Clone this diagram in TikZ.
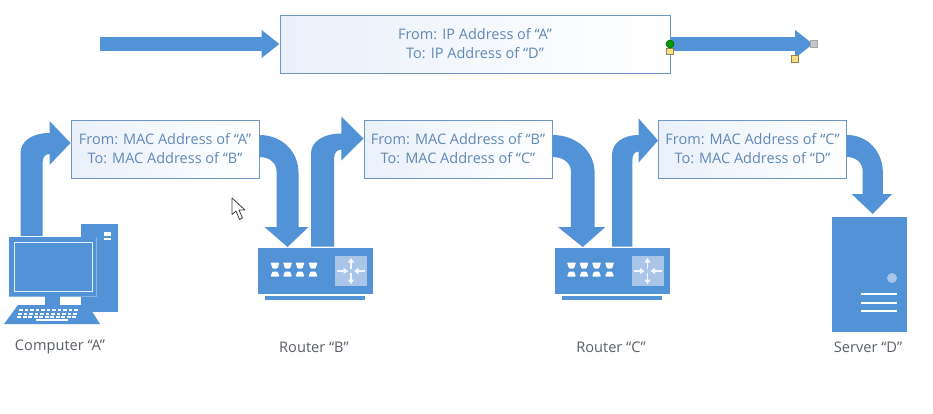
\documentclass[tikz,border=0pt]{standalone}
\usepackage{fontspec}
\setmainfont{Open Sans}
\usetikzlibrary{arrows.meta}
\definecolor{blk}{HTML}{5292D6}
\definecolor{txtb}{HTML}{5F89B8}
\definecolor{edge}{HTML}{6F97C6}
\definecolor{pale}{HTML}{EAF0FA}
\definecolor{lite}{HTML}{A9C6E8}
\definecolor{lab}{HTML}{5A5F66}
\definecolor{hy}{HTML}{F5DF85}
\definecolor{hb}{HTML}{8F8450}
\tikzset{
  x=1pt,y=-1pt,
  msgbox/.style={draw=edge,line width=1pt,left color=pale,right color=white,minimum height=58pt,inner sep=0pt,align=center,text=txtb,font=\fontsize{14.5}{19}\selectfont},
  devlabel/.style={text=lab,font=\fontsize{14.6}{16}\selectfont,inner sep=0pt},
  toparrow/.style={draw=blk,line width=13.5pt,-{Triangle[length=18pt,width=27pt]}},
  handle/.style={draw=hb,line width=.7pt,fill=#1,minimum size=7pt,inner sep=0pt},
  rarrow/.style={white!92!blk,line width=1.5pt,-{Triangle[length=4.5pt,width=6pt]}},
  pics/uparr/.style 2 args={code={
    \fill[blk] (0,0)--(-21,-22)--(-21,#2) .. controls (-38,#2) and (-50,#2+8) .. (-50,#2+20) -- (-50,#1) -- (-28,#1) -- (-28,20) .. controls (-28,14) and (-25,11) .. (-21,11) -- (-21,22) -- cycle;
  }},
  pics/downarr/.style={code={
    \fill[blk] (0,-14) .. controls (22,-14) and (39,2) .. (39,24) -- (39,#1) -- (49,#1) -- (28,#1+20) -- (5,#1) -- (17,#1) -- (17,22) .. controls (17,14) and (10,8) .. (0,8) -- cycle;
  }},
  pics/routerbody/.style={code={
    \fill[blk] (0,0) rectangle (115,46);
    \fill[blk] (7,48) rectangle (107,52);
    \fill[lite] (77,8) rectangle (109,38);
    \foreach \px in {17,29.5,42,55}{
      \fill[white,rounded corners=.8pt] (\px-4.5,14.5) -- (\px+4.5,14.5) -- (\px+2.5,20.5) -- (\px-2.5,20.5) -- cycle;
      \fill[white,rounded corners=.8pt] (\px-2.5,23.5) -- (\px+2.5,23.5) -- (\px+4.5,28.5) -- (\px-4.5,28.5) -- cycle;
    }
    \draw[rarrow] (79,23) -- (90,23);
    \draw[rarrow] (107,23) -- (96,23);
    \draw[rarrow] (93,21) -- (93,10);
    \draw[rarrow] (93,25) -- (93,36);
  }}
}
\begin{document}
\begin{tikzpicture}
\useasboundingbox[fill=white] (0,0) rectangle (933,413);
% message boxes
\node[msgbox,minimum width=390pt] (ip) at (475,44) {From: IP Address of “A”\\To: IP Address of “D”};
\node[msgbox,minimum width=188pt] (macA) at (165,149) {From: MAC Address of “A”\\To: MAC Address of “B”};
\node[msgbox,minimum width=188pt] (macB) at (458,149) {From: MAC Address of “B”\\To: MAC Address of “C”};
\node[msgbox,minimum width=188pt] (macC) at (752.5,149) {From: MAC Address of “C”\\To: MAC Address of “D”};
% top arrows
\coordinate (inStart) at (100,44);
\coordinate (outEnd) at (813,44);
\draw[toparrow] (inStart) -- (ip.west);
\draw[toparrow] (ip.east) -- (outEnd);
% handles
\node[handle=hy,minimum size=6.5pt] (h1) at (670,51.5) {};
\node[circle,draw=green!40!black,line width=.5pt,fill=green!60!black,minimum size=8pt,inner sep=0pt] (h2) at (670,44) {};
\node[handle=black!22,draw=black!35] (h3) at (814,44) {};
\node[handle=hy] (h4) at (794.5,58.5) {};
% computer
\fill[blk] (81,224) rectangle (118,312);
\fill[white] (104,232) rectangle (111,235.5);
\fill[white] (104,237.5) rectangle (111,239.5);
\fill[blk!70!white] (9,237) rectangle (97,296.5);
\fill[blk] (9,237) rectangle (96,296);
\draw[white!85!blk,line width=1pt] (14.5,242.5) rectangle (92,291.5);
\fill[blk] (45,296) rectangle (60,305);
\fill[blk] (18,305) -- (88,305) -- (100,324) -- (4,324) -- cycle;
\foreach \kx in {18,23.5,...,76}{
  \fill[white] (\kx+1,309) rectangle +(3.6,2);
  \fill[white] (\kx,312.5) rectangle +(3.8,2);
  \fill[white] (\kx-1,316) rectangle +(4,2);
}
\fill[white] (36,318.5) rectangle (68,320.5);
\pic at ([yshift=6pt]macA.west) {uparr={93}{-10}};
\pic[xscale=1.05] at ([yshift=10.5pt]macB.west) {uparr={108}{-5}};
\pic[xscale=.92] at ([yshift=8.5pt]macC.west) {uparr={106}{-5.5}};
\pic at (macA.east) {downarr=78};
\pic[xscale=1.08] at (macB.east) {downarr=78};
\pic[xscale=.92] at (macC.east) {downarr=45};
% routers
\pic at (258,248) {routerbody};
\pic at (554.5,248) {routerbody};
% server
\fill[blk] (832,217) rectangle (907,332);
\fill[lite] (892,278) circle (5);
\foreach \sy in {294,303,311}{\fill[white] (861,\sy-1.3) rectangle (897,\sy+1.3);}
% labels
\node[devlabel] (lA) at (60,347) {Computer “A”};
\node[devlabel] (lB) at (314,347) {Router “B”};
\node[devlabel] (lC) at (611,347) {Router “C”};
\node[devlabel] (lD) at (868,347) {Server “D”};
% cursor
\draw[fill=white,draw=black!75,line width=.8pt,line join=round] (232,198) -- (232,214.5) -- (236,211) -- (239.5,219.5) -- (242.5,218) -- (239,210) -- (245,210) -- cycle;
\end{tikzpicture}
\end{document}
